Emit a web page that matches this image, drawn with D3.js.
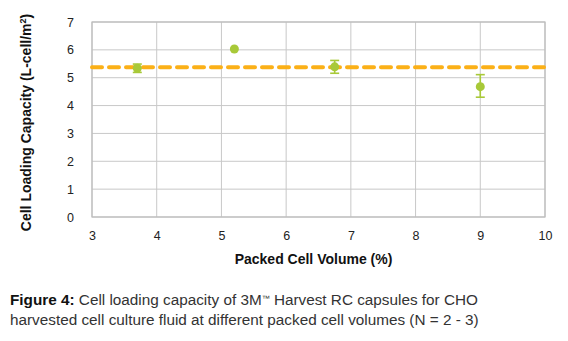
<!DOCTYPE html>
<html>
<head>
<meta charset="utf-8">
<script src="https://cdn.jsdelivr.net/npm/d3@7"></script>
<style>
  body { margin: 0; background: #fff; }
  svg text { font-family: "Liberation Sans", Arial, sans-serif; }
</style>
</head>
<body>
<div id="chart"></div>
<script>
// data
var pcv = [3.7, 5.2, 6.75, 9];
var capacity = [5.34, 6.03, 5.39, 4.68];
var errLow = [0.15, 0, 0.23, 0.38];
var errHigh = [0.15, 0, 0.23, 0.43];
var meanLine = 5.38;
var xTicks = [3, 4, 5, 6, 7, 8, 9, 10];
var yTicks = [0, 1, 2, 3, 4, 5, 6, 7];

var svgWidth = 568, svgHeight = 341;
var margin = { top: 22, left: 92, right: 23, bottom: 124 };
var width = svgWidth - margin.left - margin.right;
var height = svgHeight - margin.top - margin.bottom;

var svg = d3.select("#chart").append("svg")
  .attr("width", svgWidth)
  .attr("height", svgHeight);

var chartGroup = svg.append("g")
  .attr("transform", `translate(${margin.left}, ${margin.top})`);

var x = d3.scaleLinear().domain([3, 10]).range([0, width]);
var y = d3.scaleLinear().domain([0, 7]).range([height, 0]);

// gridlines
chartGroup.append("g")
  .selectAll("line")
  .data(xTicks)
  .enter()
  .append("line")
  .attr("x1", d => x(d)).attr("x2", d => x(d))
  .attr("y1", 0).attr("y2", height)
  .attr("stroke", "#c8c8c8")
  .attr("stroke-width", 1);

chartGroup.append("g")
  .selectAll("line")
  .data(yTicks)
  .enter()
  .append("line")
  .attr("y1", d => y(d)).attr("y2", d => y(d))
  .attr("x1", 0).attr("x2", width)
  .attr("stroke", "#c8c8c8")
  .attr("stroke-width", 1);

chartGroup.append("rect")
  .attr("width", width).attr("height", height)
  .attr("fill", "none")
  .attr("stroke", "#bdbdbd")
  .attr("stroke-width", 1.2);

// axes (labels only)
var bottomAxis = d3.axisBottom(x).tickValues(xTicks).tickFormat(d3.format("d")).tickSize(0).tickPadding(14);
var leftAxis = d3.axisLeft(y).tickValues(yTicks).tickFormat(d3.format("d")).tickSize(0).tickPadding(18);

var xAxisG = chartGroup.append("g")
  .attr("transform", `translate(0, ${height})`)
  .call(bottomAxis);
var yAxisG = chartGroup.append("g").call(leftAxis);

[xAxisG, yAxisG].forEach(function (g) {
  g.select(".domain").remove();
  g.selectAll("text")
    .attr("font-size", "12.5px")
    .attr("fill", "#222")
    .style("font-family", "'Liberation Sans', Arial, sans-serif");
});

// mean dashed line
chartGroup.append("line")
  .attr("x1", 0).attr("x2", width)
  .attr("y1", y(meanLine)).attr("y2", y(meanLine))
  .attr("stroke", "#fbb017")
  .attr("stroke-width", 4)
  .attr("stroke-dasharray", "10,7")
  .attr("stroke-linecap", "round");

// error bars
var errGroup = chartGroup.append("g");
pcv.forEach(function (v, i) {
  if (errLow[i] === 0 && errHigh[i] === 0) return;
  var cx = x(v);
  var top = y(capacity[i] + errHigh[i]);
  var bot = y(capacity[i] - errLow[i]);
  errGroup.append("line")
    .attr("x1", cx).attr("x2", cx).attr("y1", top).attr("y2", bot)
    .attr("stroke", "#a8c938").attr("stroke-width", 1.6);
  [top, bot].forEach(function (yy) {
    errGroup.append("line")
      .attr("x1", cx - 4.5).attr("x2", cx + 4.5).attr("y1", yy).attr("y2", yy)
      .attr("stroke", "#a8c938").attr("stroke-width", 1.6);
  });
});

// points
chartGroup.append("g")
  .selectAll("circle")
  .data(pcv)
  .enter()
  .append("circle")
  .attr("cx", d => x(d))
  .attr("cy", (d, i) => y(capacity[i]))
  .attr("r", 4.5)
  .attr("fill", "#a8c938");

// axis titles
chartGroup.append("text")
  .attr("transform", `translate(${-61}, ${height / 2 + 3}) rotate(-90)`)
  .attr("text-anchor", "middle")
  .attr("font-size", "14px")
  .attr("font-weight", "bold")
  .attr("fill", "#111")
  .html("Cell Loading Capacity (L-cell/m<tspan baseline-shift='super' font-size='9px'>2</tspan>)");

chartGroup.append("text")
  .attr("x", width / 2 - 5)
  .attr("y", height + 47)
  .attr("text-anchor", "middle")
  .attr("font-size", "14px")
  .attr("font-weight", "bold")
  .attr("fill", "#111")
  .text("Packed Cell Volume (%)");

// caption
var caption = svg.append("text")
  .attr("x", 10)
  .attr("y", 305)
  .attr("font-size", "15.3px")
  .attr("fill", "#333");
caption.append("tspan").attr("font-weight", "bold").attr("fill", "#111").text("Figure 4:");
caption.append("tspan").text(" Cell loading capacity of 3M");
caption.append("tspan").attr("font-size", "8px").attr("baseline-shift", "super").text("\u2122");
caption.append("tspan").text(" Harvest RC capsules for CHO");

svg.append("text")
  .attr("x", 10)
  .attr("y", 325)
  .attr("font-size", "15.3px")
  .attr("fill", "#333")
  .text("harvested cell culture fluid at different packed cell volumes (N = 2 - 3)");
</script>
</body>
</html>
